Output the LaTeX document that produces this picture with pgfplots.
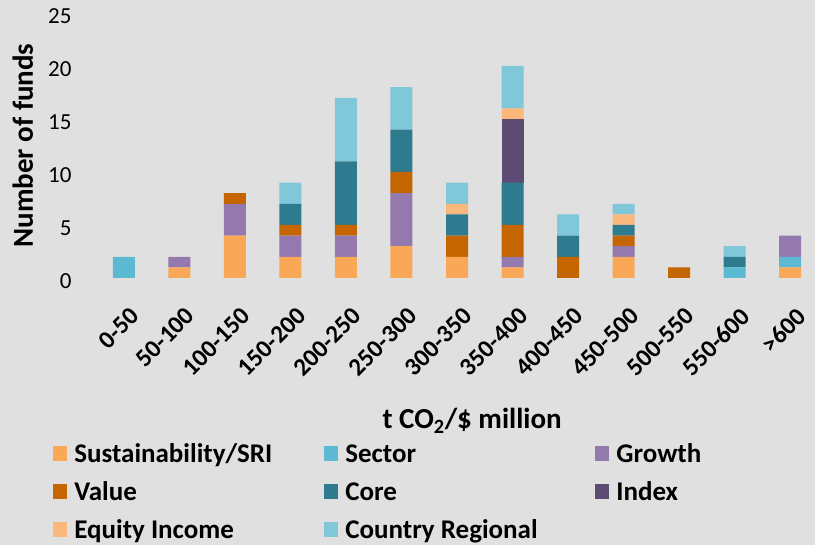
\documentclass[border=0pt]{standalone}
\usepackage{pgfplots}
\pgfplotsset{compat=1.18}
\usepackage{pgfplotstable}
\usepackage{fontspec}
\setmainfont{Carlito}
\definecolor{bg}{HTML}{E0E0E0}
\definecolor{cSRI}{HTML}{F9A857}
\definecolor{cSector}{HTML}{5BB9D2}
\definecolor{cGrowth}{HTML}{9479AF}
\definecolor{cValue}{HTML}{C46500}
\definecolor{cCore}{HTML}{2E7A8E}
\definecolor{cIndex}{HTML}{5E4B73}
\definecolor{cEI}{HTML}{FBB87D}
\definecolor{cCR}{HTML}{7FC7D9}
\pgfplotstableread{
x sri sector growth value core index ei cr
0  0 2 0 0 0 0 0 0
1  1 0 1 0 0 0 0 0
2  4 0 3 1 0 0 0 0
3  2 0 2 1 2 0 0 2
4  2 0 2 1 6 0 0 6
5  3 0 5 2 4 0 0 4
6  2 0 0 2 2 0 1 2
7  1 0 1 3 4 6 1 4
8  0 0 0 2 2 0 0 2
9  2 0 1 1 1 0 1 1
10 0 0 0 1 0 0 0 0
11 0 1 0 0 1 0 0 1
12 1 1 2 0 0 0 0 0
}\data
\newcommand{\LE}[1]{\makebox[257pt][l]{\hspace*{7pt}#1}}
\begin{document}
\begin{tikzpicture}[x=1pt,y=1pt]
\path[use as bounding box, fill=bg] (0,0) rectangle (815,545);
\begin{axis}[
  at={(96pt,267pt)}, anchor=south west,
  scale only axis, width=722pt, height=265pt,
  ybar stacked, bar width=22pt,
  xmin=-0.5, xmax=12.5, ymin=0, ymax=25,
  ytick={0,5,...,25},
  xtick=data,
  xticklabels={0-50,50-100,100-150,150-200,200-250,250-300,300-350,350-400,400-450,450-500,500-550,550-600,>600},
  axis line style={draw=none},
  major tick length=0pt,
  /pgf/number format/assume math mode=true,
  yticklabel style={font=\fontsize{23}{23}\selectfont, xshift=-21pt, yshift=-3pt},
  xticklabel style={font=\bfseries\fontsize{25}{25}\selectfont, inner sep=0pt, xshift=5pt, yshift=-28pt, rotate=45, anchor=north east},
  xlabel={t CO\textsubscript{2}/\$ million},
  xlabel style={font=\bfseries\fontsize{29}{29}\selectfont, at={([yshift=-151pt]axis description cs:0.521,0)}, anchor=base},
  ylabel={Number of funds},
  ylabel style={font=\bfseries\fontsize{29}{29}\selectfont, at={([xshift=-63pt]axis description cs:0,0.5)}, anchor=base, rotate=0},
  legend columns=3,
  legend cell align=left,
  legend style={draw=none, fill=none, inner sep=0pt, outer sep=0pt,
    at={(-0.0591,-0.5887)}, anchor=north west,
    nodes={inner sep=0pt, outer sep=0pt, text height=28pt, text depth=10pt},
    font=\bfseries\fontsize{27}{27}\selectfont,
    /tikz/column sep=0pt, /tikz/row sep=0pt},
  legend image code/.code={\fill[#1] (0pt,-7.7pt) rectangle (14pt,6.7pt);},
  every axis plot/.append style={draw=none},
]
\addplot[fill=cSRI] table[x=x,y=sri]{\data};
\addlegendentry{\LE{Sustainability/SRI}}
\addplot[fill=cSector] table[x=x,y=sector]{\data};
\addlegendentry{\LE{Sector}}
\addplot[fill=cGrowth] table[x=x,y=growth]{\data};
\addlegendentry{\LE{Growth}}
\addplot[fill=cValue] table[x=x,y=value]{\data};
\addlegendentry{\LE{Value}}
\addplot[fill=cCore] table[x=x,y=core]{\data};
\addlegendentry{\LE{Core}}
\addplot[fill=cIndex] table[x=x,y=index]{\data};
\addlegendentry{\LE{Index}}
\addplot[fill=cEI] table[x=x,y=ei]{\data};
\addlegendentry{\LE{Equity Income}}
\addplot[fill=cCR] table[x=x,y=cr]{\data};
\addlegendentry{\LE{Country Regional}}
\end{axis}
\end{tikzpicture}
\end{document}
